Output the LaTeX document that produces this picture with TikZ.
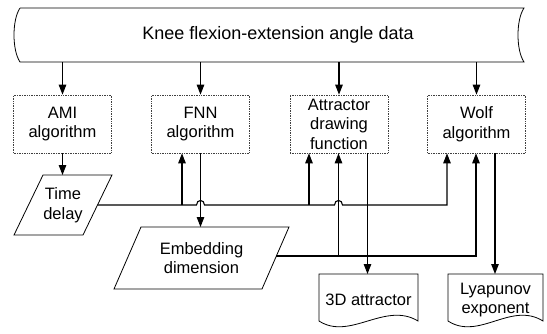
\documentclass[tikz,border=0pt]{standalone}
\usepackage{fontspec}
\setmainfont{Liberation Sans}
\usetikzlibrary{arrows.meta}
\begin{document}
\begin{tikzpicture}[x=1pt,y=-1pt,
  txt/.style={font=\fontsize{16.5}{19.5}\selectfont},
  proc/.style={txt, draw=black!75, densely dotted, line width=0.7pt, minimum width=98pt, minimum height=58pt, align=center, inner sep=0pt},
  lbl/.style={txt, align=center, inner sep=0pt},
  shp/.style={draw=black, line width=0.8pt},
  conn/.style={line width=1.1pt},
  arr/.style={conn, -{Triangle[length=10pt,width=7.5pt]}}
]
\useasboundingbox (0,0) rectangle (547,333);

% input banner
\draw[shp] (20,8) -- (524,8) .. controls (516,20) and (516,50) .. (524,62) -- (20,62) .. controls (12,50) and (12,20) .. (20,8);
\node[lbl, font=\fontsize{18}{20}\selectfont, minimum height=54pt] (data) at (278,35) {Knee flexion-extension angle data};

% process boxes
\node[proc] (ami)  at (62.5,124) {AMI\\algorithm};
\node[proc] (fnn)  at (200.5,124) {FNN\\algorithm};
\node[proc] (att)  at (339,124) {Attractor\\drawing\\function};
\node[proc] (wolf) at (476.5,124) {Wolf\\algorithm};

\foreach \n in {ami,fnn,att,wolf}
  \draw[arr] (\n.north |- data.south) -- (\n.north);

% time delay
\draw[shp] (43,175) -- (112,175) -- (83,235) -- (14,235) -- cycle;
\node[lbl] (td) at (63,205) {Time\\delay};
\coordinate (tdtop) at (62.5,175);
\coordinate (tdout) at (97.5,205);

% embedding dimension
\draw[shp] (141,227) -- (289,227) -- (262,289) -- (114,289) -- cycle;
\node[lbl] (emb) at (201.5,258) {Embedding\\dimension};
\coordinate (embtop) at (200.5,227);
\coordinate (embout) at (276,256);

% outputs (documents)
\draw[shp] (319,274) -- (418,274) -- (418,321) .. controls (385,301) and (350,341) .. (319,321) -- cycle;
\node[lbl] (d3) at (368.5,300) {3D attractor};
\draw[shp] (448,274) -- (543,274) -- (543,321) .. controls (511,301) and (479,341) .. (448,321) -- cycle;
\node[lbl] (lya) at (495.5,300) {Lyapunov\\exponent};
\coordinate (a3) at (367.5,274);
\coordinate (ly) at (495,274);

% connectors
\draw[arr] (ami.south) -- (ami.south |- tdtop);
\draw[arr] (fnn.south) -- (fnn.south |- embtop);

\coordinate (tdW) at (447,205);
\draw[arr] (tdout) -- (196.5,205) .. controls (196.5,199) and (204.5,199) .. (204.5,205)
  -- (334.5,205) .. controls (334.5,199) and (342.5,199) .. (342.5,205)
  -- (tdW) -- (tdW |- wolf.south);
\coordinate (b1) at (182,205);
\coordinate (b2) at (309,205);
\draw[arr] (b1) -- (b1 |- fnn.south);
\draw[arr] (b2) -- (b2 |- att.south);

\coordinate (e1) at (338.5,256);
\coordinate (e2) at (476,256);
\draw[arr] (embout) -- (e2) -- (e2 |- wolf.south);
\draw[arr] (e1) -- (e1 |- att.south);

\draw[arr] (a3 |- att.south) -- (a3);
\draw[arr] (ly |- wolf.south) -- (ly);
\end{tikzpicture}
\end{document}
